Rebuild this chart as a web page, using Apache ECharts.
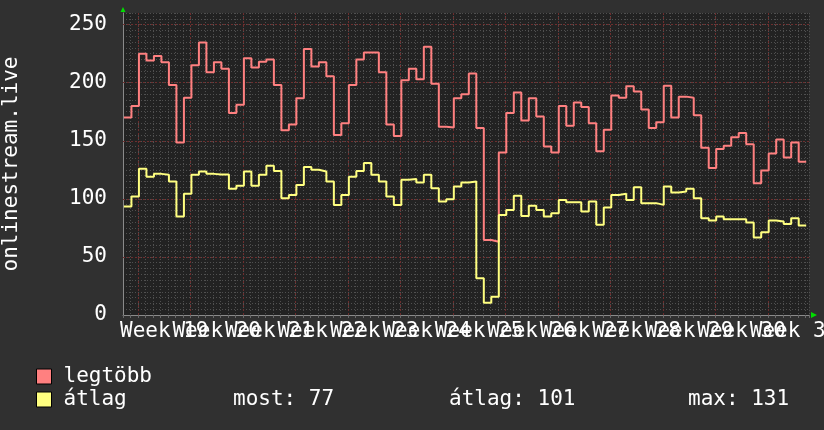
<!DOCTYPE html>
<html><head><meta charset="utf-8">
<script src="https://cdn.jsdelivr.net/npm/echarts@6/dist/echarts.min.js"></script>
<style>html,body{margin:0;padding:0;background:#303030;}#c{width:824px;height:430px;}</style>
</head><body><div id="c"></div>
<script>
// ---- data (one value per day) ----
const seriesNames = ['legtöbb', 'átlag'];
const maxValues = [
  170, 180, 225, 219, 223, 217.5, 198, 148.5, 187, 215,
  234.7, 209, 217.5, 212, 174, 181, 221, 213, 218, 220,
  198, 159, 164, 186.5, 229, 214, 217.5, 205.5, 155, 165,
  198, 220, 226, 226, 209, 164, 154, 202, 212, 203,
  231, 199, 162, 161.5, 186.5, 190, 208, 161, 64.5, 63,
  140, 174, 191.6, 167.5, 186.5, 171, 145, 140, 180, 163,
  183, 179, 165, 141, 159.5, 189, 187, 197, 192.5, 177,
  161, 166, 197.4, 170, 188, 187, 172, 144, 126.5, 143,
  145.7, 153, 156.6, 147, 113.5, 124.4, 139, 151, 135.6, 148.5,
  132
];
const avgValues = [
  93.4, 102, 126, 119, 121.5, 120.7, 115, 84.7, 104.3, 120.7,
  123.5, 121.5, 121, 121, 108.6, 111.2, 123.5, 111.2, 120.7, 128.5,
  124, 100.6, 103.4, 112, 127.5, 125, 123.5, 115, 94.8, 103.4,
  119, 124, 130.8, 120.7, 115, 102, 94.8, 116.4, 117, 114,
  120.7, 109.2, 97.7, 99.7, 110.6, 114, 115, 31.6, 10.6, 15.8,
  86.2, 90.5, 102.6, 85.3, 94, 90.5, 84.7, 87.6, 99.1, 97.1,
  97.1, 89, 97.7, 77.6, 92.5, 103.4, 104.3, 99, 110, 96.3,
  96.3, 94.8, 110.6, 105.5, 106.3, 108.6, 100.6, 83.3, 81.3, 84.7,
  82.5, 82.5, 82.5, 79.6, 66.7, 71.2, 81.3, 80.5, 78.4, 83.3,
  77
];
const weekLabels = ['Week 19','Week 20','Week 21','Week 22','Week 23','Week 24','Week 25',
                    'Week 26','Week 27','Week 28','Week 29','Week 30','Week 31'];
const yMajorTicks = [0, 50, 100, 150, 200, 250];
const statLabels = ['most', 'átlag', 'max'];
const statValues = [77, 101, 131];

// time axis in days, 0 = Monday 00:00 of the first labelled week
const firstSampleDay = -1.875;   // start of first daily sample
const xMin = -2, xMax = 89.5;
const yMin = 0, yMax = 260;

const FONT = "'DejaVu Sans Mono', monospace";
const FS = 21;

function toSteps(vals) {
  const pts = vals.map((v, i) => [firstSampleDay + i, v]);
  pts.push([firstSampleDay + vals.length, vals[vals.length - 1]]);
  return pts;
}

const chart = echarts.init(document.getElementById('c'), null, {renderer: 'canvas'});

const option = {
  backgroundColor: '#303030',
  animation: false,
  grid: {left: 123, right: 15, top: 13, bottom: 115, show: true,
         outerBoundsMode: 'none', containLabel: false,
         backgroundColor: '#222222', borderWidth: 0},
  xAxis: [
    { type: 'value', min: xMin, max: xMax, interval: 1,
      axisLine: {show: true, onZero: false, lineStyle: {color: '#8a8a8a', width: 1}},
      axisTick: {show: true, length: 3, lineStyle: {color: '#6a6a6a'}},
      axisLabel: {show: false},
      splitLine: {show: true, lineStyle: {color: '#505050', type: [1, 2], width: 1}} },
    { type: 'value', min: xMin, max: xMax, interval: 0.5, position: 'bottom',
      axisLine: {show: false, onZero: false}, axisTick: {show: false}, splitLine: {show: false},
      axisLabel: {show: true, color: '#ffffff', fontFamily: FONT, fontSize: FS, margin: 6,
        hideOverlap: false, showMinLabel: true, showMaxLabel: true,
        formatter: function (v) {
          const n = (v - 3.5) / 7;
          if (Math.abs(n - Math.round(n)) < 1e-6) {
            const k = Math.round(n);
            if (k >= 0 && k < weekLabels.length) return weekLabels[k];
          }
          return '';
        }} }
  ],
  yAxis: [
    { type: 'value', min: yMin, max: yMax, interval: 5,
      name: 'onlinestream.live', nameLocation: 'middle', nameRotate: 90, nameGap: 101,
      nameTextStyle: {color: '#ffffff', fontFamily: FONT, fontSize: FS},
      axisLine: {show: true, onZero: false, lineStyle: {color: '#8a8a8a', width: 1}},
      axisTick: {show: false},
      axisLabel: {show: true, color: '#ffffff', fontFamily: FONT, fontSize: FS, margin: 16,
        formatter: function (v) { return yMajorTicks.indexOf(v) >= 0 ? String(v) : ''; }},
      splitLine: {show: true, lineStyle: {color: '#505050', type: [1, 2], width: 1}} }
  ],
  legend: {
    data: seriesNames, orient: 'vertical', left: 31, top: 361,
    itemWidth: 15, itemHeight: 15, itemGap: 2, icon: 'rect', selectedMode: false,
    itemStyle: {borderColor: '#000000', borderWidth: 1},
    textStyle: {color: '#ffffff', fontFamily: FONT, fontSize: FS, padding: [0, 0, 0, 7]}
  },
  series: [
    { name: seriesNames[0], type: 'line', step: 'end', showSymbol: false, symbol: 'none',
      data: toSteps(maxValues), color: '#ff8080',
      lineStyle: {color: '#ff8080', width: 2}, z: 5,
      markLine: { silent: true, symbol: 'none', label: {show: false}, z: 1,
        lineStyle: {color: '#6e2e2e', type: [2, 2], width: 1},
        data: weekLabels.map((_, w) => ({xAxis: 7 * w}))
          .concat(yMajorTicks.slice(1).map(v => ({yAxis: v}))) } },
    { name: seriesNames[1], type: 'line', step: 'end', showSymbol: false, symbol: 'none',
      data: toSteps(avgValues), color: '#ffff80',
      lineStyle: {color: '#ffff80', width: 2}, z: 6 }
  ],
  graphic: statLabels.map((lab, i) => ({
    type: 'text', left: [233, 449, 688][i], top: 389,
    style: {text: lab + ': ' + statValues[i], fill: '#ffffff', font: FS + 'px ' + FONT}
  }))
};
chart.setOption(option);

// green arrows at the axis ends
const tl = chart.convertToPixel({gridIndex: 0}, [xMin, yMax]);
const br = chart.convertToPixel({gridIndex: 0}, [xMax, yMin]);
chart.setOption({graphic: option.graphic.concat([
  {type: 'polygon', shape: {points: [[tl[0] - 2.5, tl[1] - 1], [tl[0] + 2.5, tl[1] - 1], [tl[0], tl[1] - 6]]},
   style: {fill: '#00dd00'}, z: 100},
  {type: 'polygon', shape: {points: [[br[0] + 2, br[1] - 3], [br[0] + 2, br[1] + 3], [br[0] + 8, br[1]]]},
   style: {fill: '#00dd00'}, z: 100}
])});
</script></body></html>
